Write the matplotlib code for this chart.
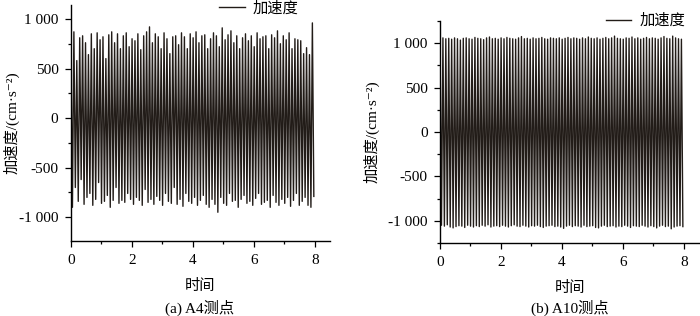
import numpy as np
import matplotlib
matplotlib.use('Agg')
import matplotlib.pyplot as plt
from matplotlib.ticker import MultipleLocator, FuncFormatter

# peak / trough values of each cycle (cm/s^2)
peaks_a = [650, 870, 580, 810, 830, 760, 640, 850, 700, 860,
           790, 820, 600, 840, 870, 760, 850, 700, 830, 860,
           720, 800, 780, 850, 690, 830, 870, 920, 760, 850,
           820, 700, 860, 800, 650, 820, 830, 740, 860, 820,
           700, 850, 810, 870, 760, 830, 840, 700, 800, 860,
           830, 720, 910, 790, 840, 880, 760, 830, 700, 810,
           850, 780, 830, 720, 860, 800, 820, 830, 700, 840,
           810, 880, 750, 830, 790, 860, 700, 800, 790, 780,
           650, 710, 640, 960]
troughs_a = [-900, -700, -840, -620, -870, -800, -760, -880, -820, -650,
             -860, -840, -780, -900, -830, -700, -860, -830, -850, -760,
             -820, -870, -800, -830, -880, -720, -850, -820, -870, -790,
             -830, -880, -760, -840, -860, -700, -870, -820, -890, -760,
             -840, -860, -800, -880, -830, -780, -870, -900, -820, -870,
             -950, -800, -860, -880, -760, -840, -830, -900, -820, -780,
             -860, -840, -880, -810, -760, -870, -850, -830, -900, -780,
             -850, -880, -820, -860, -800, -890, -830, -760, -880, -840,
             -800, -880, -900, -790]
peaks_b = [1040, 1060, 1050, 1055, 1045, 1060, 1050, 1035, 1055, 1060,
           1050, 1045, 1065, 1055, 1050, 1040, 1060, 1070, 1050, 1055,
           1045, 1060, 1050, 1065, 1055, 1050, 1045, 1060, 1075, 1050,
           1055, 1045, 1060, 1050, 1055, 1065, 1050, 1045, 1060, 1055,
           1050, 1060, 1045, 1055, 1065, 1050, 1060, 1055, 1045, 1060,
           1050, 1070, 1055, 1050, 1060, 1045, 1055, 1065, 1050, 1060,
           1080, 1055, 1050, 1045, 1060, 1055, 1070, 1050, 1060, 1045,
           1055, 1065, 1050, 1060, 1055, 1045, 1060, 1075, 1055, 1050,
           1080, 1060, 1050, 1045]
troughs_b = [-1050, -1060, -1045, -1070, -1080, -1065, -1055, -1060, -1075, -1050,
             -1060, -1070, -1055, -1065, -1050, -1060, -1045, -1070, -1060, -1055,
             -1065, -1050, -1060, -1070, -1055, -1045, -1060, -1065, -1050, -1060,
             -1070, -1055, -1060, -1050, -1065, -1075, -1060, -1055, -1050, -1065,
             -1060, -1070, -1085, -1060, -1050, -1065, -1055, -1060, -1070, -1050,
             -1065, -1060, -1055, -1075, -1080, -1060, -1050, -1065, -1060, -1055,
             -1070, -1060, -1065, -1050, -1060, -1075, -1055, -1060, -1065, -1050,
             -1060, -1070, -1055, -1065, -1080, -1060, -1050, -1065, -1060, -1090,
             -1070, -1060, -1055, -1065]

captions = ['(a) A4测点', '(b) A10测点']
fam = ['Liberation Serif', 'Noto Sans CJK SC', 'DejaVu Sans']
plt.rcParams['font.family'] = fam
plt.rcParams['font.size'] = 11
plt.rcParams['axes.unicode_minus'] = False
plt.rcParams['axes.linewidth'] = 1.0


def series(peaks, troughs):
    y = np.column_stack([peaks, troughs]).ravel()
    t = np.linspace(0, 7.97, len(y))
    return t, y


def fmt(v, pos):
    s = f'{abs(int(v)):,}'.replace(',', ' ')
    return ('-' if v < 0 else '') + s


fig = plt.figure(figsize=(7, 3.16), dpi=100)
axs = [fig.add_axes([0.1014, 0.2373, 0.370, 0.7467]),
       fig.add_axes([0.6286, 0.2310, 0.370, 0.7025])]
data = [(peaks_a, troughs_a), (peaks_b, troughs_b)]
ylims = [(-1240, 1140), (-1250, 1250)]
legpos = [(0.903, 0.987), (0.969, 1.0)]
ylab_x = [-0.20, -0.235]
cap_x = [200 / 700, 570 / 700]

for i, ax in enumerate(axs):
    t, y = series(*data[i])
    ax.plot(t, y, color='#221c18', lw=1.0, label='加速度')
    ax.set_xlim(0, 8.5)
    ax.set_ylim(*ylims[i])
    ax.spines['top'].set_visible(False)
    ax.spines['right'].set_visible(False)
    ax.xaxis.set_major_locator(MultipleLocator(2))
    ax.xaxis.set_minor_locator(MultipleLocator(1))
    ax.yaxis.set_major_locator(MultipleLocator(500))
    ax.yaxis.set_minor_locator(MultipleLocator(250))
    ax.yaxis.set_major_formatter(FuncFormatter(fmt))
    ax.tick_params(which='major', direction='out', length=4, width=0.9, pad=5)
    ax.tick_params(which='minor', direction='out', length=2.5, width=0.9)
    ax.set_xlabel('时间', labelpad=9)
    ax.set_ylabel('加速度/(cm·s⁻²)')
    ax.yaxis.set_label_coords(ylab_x[i], 0.5)
    ax.legend(loc='center right', bbox_to_anchor=legpos[i], frameon=False,
              borderaxespad=0, handlelength=1.7, handletextpad=0.5)
    fig.text(cap_x[i], 0.026, captions[i], ha='center', va='center')

fig.savefig('out.png', dpi=100)
